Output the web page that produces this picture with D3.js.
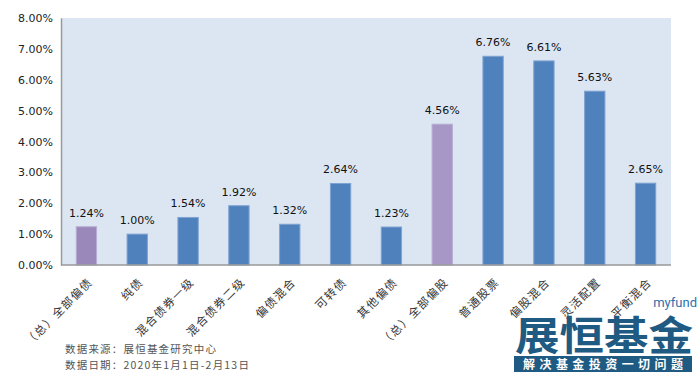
<!DOCTYPE html>
<html>
<head>
<meta charset="utf-8">
<script src="https://cdn.jsdelivr.net/npm/d3@7"></script>
<style>
  body { margin: 0; background: #fff; }
  svg { display: block; font-family: "Noto Sans CJK SC", "DejaVu Sans", sans-serif; }
</style>
</head>
<body>
<div id="vis"></div>
<script>
// Fund category returns, 2020-01-01 to 2020-02-13

const CATEGORIES = [
  "（总）全部偏债", "纯债", "混合债券一级", "混合债券二级", "偏债混合", "可转债",
  "其他偏债", "（总）全部偏股", "普通股票", "偏股混合", "灵活配置", "平衡混合"
];
const RETURNS = [1.24, 1.00, 1.54, 1.92, 1.32, 2.64, 1.23, 4.56, 6.76, 6.61, 5.63, 2.65];
const IS_TOTAL = [true, false, false, false, false, false, false, true, false, false, false, false];
const Y_TICKS = [0, 1, 2, 3, 4, 5, 6, 7, 8];
const NOTES = ["数据来源：展恒基金研究中心", "数据日期：2020年1月1日-2月13日"];

const W = 700, H = 376;
const margin = { top: 18, right: 29, bottom: 111, left: 61 };
const innerW = W - margin.left - margin.right;
const innerH = H - margin.top - margin.bottom;

const svg = d3.select("#vis").append("svg").attr("width", W).attr("height", H);
const g = svg.append("g").attr("transform", `translate(${margin.left},${margin.top})`);

const x = d3.scaleBand().domain(CATEGORIES).range([0, innerW]).paddingInner(0.6).paddingOuter(0.3);
const y = d3.scaleLinear().domain([0, 8]).range([innerH, 0]);

g.append("rect").attr("width", innerW).attr("height", innerH).attr("fill", "#dce6f2");

// y axis
g.append("g")
  .call(d3.axisLeft(y).tickValues(Y_TICKS).tickSize(0).tickPadding(8).tickFormat(d => d.toFixed(2) + "%"))
  .call(ax => ax.select(".domain").attr("stroke", "#999").attr("stroke-width", 1.5))
  .selectAll("text").style("font-size", "11px").style("fill", "#222").style("font-family", "DejaVu Sans, sans-serif");

// bars
g.selectAll(".bar").data(RETURNS).join("rect")
  .attr("x", (d, i) => x(CATEGORIES[i]))
  .attr("y", d => y(d))
  .attr("width", x.bandwidth())
  .attr("height", d => innerH - y(d))
  .attr("fill", (d, i) => IS_TOTAL[i] ? (i === 0 ? "#9b88bb" : "#a697c6") : "#4f81bd")
  .attr("stroke", (d, i) => IS_TOTAL[i] ? "#b9add4" : "#7fa3d2")
  .attr("stroke-width", 1);

// value labels
g.selectAll(".lbl").data(RETURNS).join("text")
  .attr("x", (d, i) => x(CATEGORIES[i]) + x.bandwidth() / 2)
  .attr("y", d => y(d) - 10)
  .attr("text-anchor", "middle")
  .style("font-size", "11px").style("fill", "#111").style("font-family", "DejaVu Sans, sans-serif")
  .text(d => d.toFixed(2) + "%");

// x axis line
g.append("line").attr("x1", 0).attr("x2", innerW).attr("y1", innerH).attr("y2", innerH)
  .attr("stroke", "#999").attr("stroke-width", 1.5);

// rotated category labels
g.selectAll(".cat").data(CATEGORIES).join("text")
  .attr("transform", d => `translate(${x(d) + x.bandwidth() / 2 + 4},${innerH + 15}) rotate(-45)`)
  .attr("text-anchor", "end")
  .attr("dy", "0.35em")
  .style("font-size", "11.5px").style("letter-spacing", "1.3px").style("fill", "#333")
  .text(d => d);

// source notes
svg.selectAll(".note").data(NOTES).join("text")
  .attr("x", 65).attr("y", (d, i) => 353 + i * 16)
  .style("font-size", "10.5px").style("letter-spacing", "1.2px").style("fill", "#555")
  .text(d => d);

// logo
svg.append("text").attr("x", 697).attr("y", 307).attr("text-anchor", "end")
  .style("font-family", "Roboto, sans-serif").style("font-size", "13px").style("fill", "#2d6fae")
  .text("myfund");
svg.append("text").attr("x", 515).attr("y", 350)
  .attr("textLength", 178).attr("lengthAdjust", "spacingAndGlyphs")
  .style("font-size", "40px").style("font-weight", "bold").style("fill", "#1e5a82")
  .text("展恒基金");
svg.append("rect").attr("x", 514).attr("y", 356).attr("width", 178).attr("height", 16).attr("fill", "#1e5a82");
svg.append("text").attr("x", 603).attr("y", 368.5).attr("text-anchor", "middle")
  .attr("textLength", 160).attr("lengthAdjust", "spacing")
  .style("font-size", "12px").style("font-weight", "bold").style("fill", "#fff")
  .text("解决基金投资一切问题");
</script>
</body>
</html>
